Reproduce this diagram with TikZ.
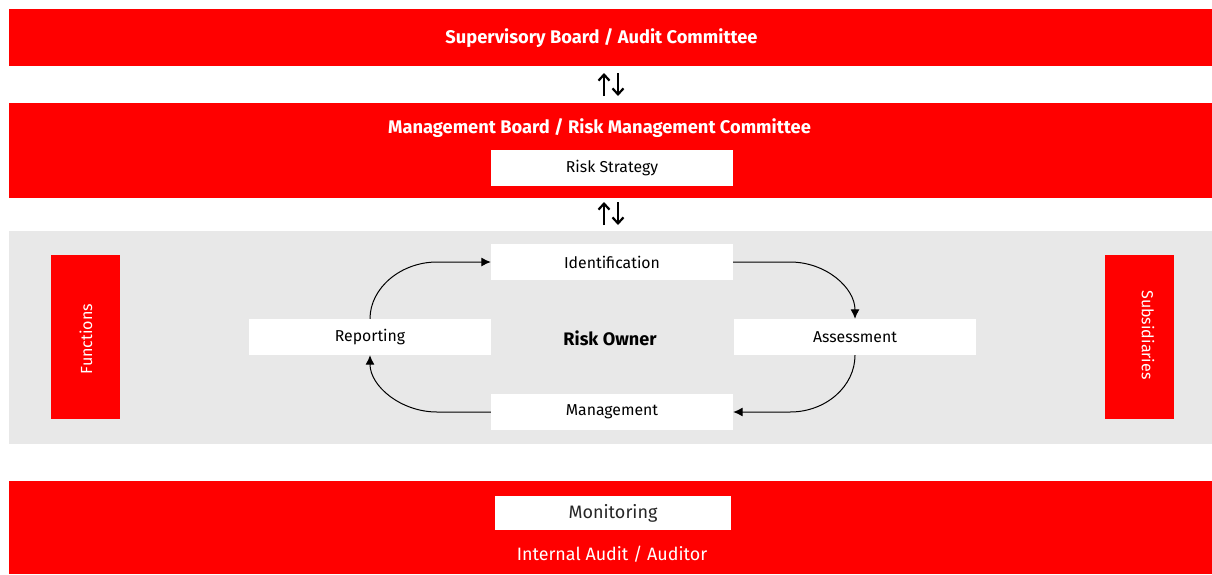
\documentclass[tikz,border=0pt]{standalone}
\usepackage{fontspec}
\setmainfont{Fira Sans}
\usetikzlibrary{arrows.meta}
\definecolor{dred}{HTML}{FF0000}
\definecolor{dgray}{HTML}{E8E8E8}
\begin{document}
\begin{tikzpicture}[x=1pt,y=-1pt,
  redbar/.style={fill=dred,draw=none,inner sep=0pt},
  wbox/.style={fill=white,draw=none,inner sep=0pt,minimum width=242pt,minimum height=36pt,font=\fontsize{15.8}{17}\selectfont},
  bartitle/.style={text=white,font=\bfseries\fontsize{18.3}{20}\selectfont},
  flow/.style={draw=black,line width=1pt,-{Latex[length=9.5pt,width=9pt]}},
  updown/.style={draw=black,line width=2.2pt,-{Straight Barb[length=6pt,width=11pt]}}]
\useasboundingbox (0,0) rectangle (1212,574);
\fill[white] (0,0) rectangle (1212,574);
% bars
\node[redbar,minimum width=1203pt,minimum height=57pt] (sup) at (610.5,37.5) {};
\node[bartitle] (supt) at (601.5,38.5) {Supervisory Board / Audit Committee};
\node[redbar,minimum width=1203pt,minimum height=95pt] (mgmt) at (610.5,150.5) {};
\node[bartitle] (mgmtt) at (599.5,128.5) {Management Board / Risk Management Committee};
\node[wbox] (strat) at (612,168) {Risk Strategy};
\node[fill=dgray,draw=none,inner sep=0pt,minimum width=1203pt,minimum height=213pt] (gray) at (610.5,337.5) {};
\node[redbar,minimum width=1203pt,minimum height=93pt] (mon) at (610.5,527.5) {};
\node[wbox,minimum width=236pt,minimum height=34pt,font=\fontsize{18}{20}\selectfont,text=black!85] (monb) at (613,513) {Monitoring};
\node[text=white,font=\fontsize{17.9}{20}\selectfont] (ia) at (612,554) {Internal Audit / Auditor};
% up/down arrows
\coordinate (u1a) at (604,96); \coordinate (u1b) at (604,73);
\coordinate (d1a) at (618,73); \coordinate (d1b) at (618,96);
\draw[updown] (u1a) -- (u1b);
\draw[updown] (d1a) -- (d1b);
\coordinate (u2a) at (604,225); \coordinate (u2b) at (604,202);
\coordinate (d2a) at (618,202); \coordinate (d2b) at (618,225);
\draw[updown] (u2a) -- (u2b);
\draw[updown] (d2a) -- (d2b);
% side boxes
\node[redbar,minimum width=69pt,minimum height=164pt] (fun) at (85.5,337) {};
\node[text=white,rotate=90,font=\fontsize{16.1}{18}\selectfont] (funt) at (86,339) {Functions};
\node[redbar,minimum width=69pt,minimum height=164pt] (sub) at (1139.5,337) {};
\node[text=white,rotate=-90,font=\fontsize{16}{18}\selectfont] (subt) at (1148,335) {Subsidiaries};
% cycle
\node[wbox] (ide) at (612,262) {Identification};
\node[wbox] (rep) at (370,337) {Reporting};
\node[wbox] (ass) at (855,337) {Assessment};
\node[wbox] (man) at (612,412) {Management};
\node[font=\bfseries\fontsize{18.1}{20}\selectfont] (ro) at (610,338.5) {Risk Owner};
\coordinate (c1) at (437,262);
\coordinate (c2) at (790,262);
\coordinate (c3) at (790,412);
\coordinate (c4) at (437,412);
\draw[flow] (rep.north) .. controls +(0,-31) and +(-36,0) .. (c1) -- (ide.west);
\draw[flow] (ide.east) -- (c2) .. controls +(36,0) and +(0,-31) .. (ass.north);
\draw[flow] (ass.south) .. controls +(0,31) and +(36,0) .. (c3) -- (man.east);
\draw[flow] (man.west) -- (c4) .. controls +(-36,0) and +(0,31) .. (rep.south);
\end{tikzpicture}
\end{document}
